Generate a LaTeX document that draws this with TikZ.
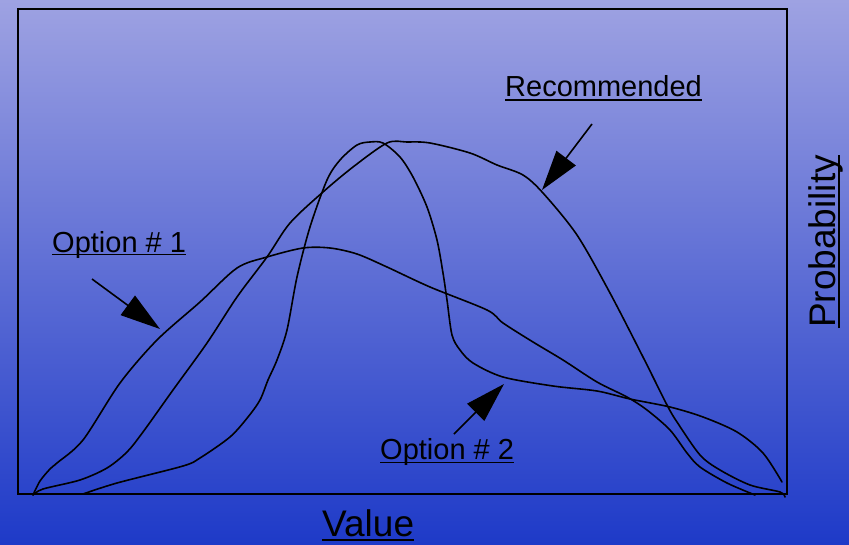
\documentclass[tikz,border=0pt]{standalone}
\usepackage{fontspec}
\setmainfont{Liberation Sans}
\usetikzlibrary{arrows.meta}
\definecolor{bgtop}{RGB}{158,162,226}
\definecolor{bgbot}{RGB}{30,58,200}
\tikzset{
  curve/.style={line width=1.6pt, line join=round, line cap=round},
  frame/.style={line width=2pt},
  pointer/.style={line width=1.6pt, -{Triangle[length=40pt,width=24pt]}},
  lbl/.style={inner sep=0pt, font=\fontsize{29}{34}\selectfont},
  biglbl/.style={inner sep=0pt, font=\fontsize{37}{44}\selectfont},
  uline/.style={line width=1.4pt}
}
\begin{document}
\begin{tikzpicture}[x=1pt,y=-1pt]
\fill[top color=bgtop, bottom color=bgbot] (0,0) rectangle (849,544);
\useasboundingbox (0,0) rectangle (849,544);
\draw[frame] (18,8.5) rectangle (786.5,493.5);

% Option # 1 curve
\draw[curve] plot[smooth, tension=0.5] coordinates {
 (33,495) (40,481) (50,469) (57,463) (83,440) (120,383) (157,340) (200,302)
 (237,268) (267,257) (303,248) (330,248) (357,254) (387,267) (430,287)
 (487,310) (503,323) (533,342) (563,360) (597,382) (627,397) (647,410)
 (670,430) (687,453) (700,467) (727,483) (755,495)};

% Recommended curve
\draw[curve] plot[smooth, tension=0.5] coordinates {
 (33,495) (43,489) (80,480) (107,468) (127,452) (143,432) (173,390) (207,343)
 (237,297) (267,257) (290,223) (323,192) (353,167) (387,143) (407,142)
 (430,143) (470,153) (497,165) (523,175) (543,193) (577,235) (610,293)
 (643,357) (667,405) (677,422) (700,455) (720,470) (750,485) (780,492) (785,497)};

% Option # 2 curve
\draw[curve] plot[smooth, tension=0.5] coordinates {
 (83,494) (117,483) (183,466) (200,458) (230,437) (248,417) (260,400)
 (268,380) (277,360) (287,330) (297,277) (310,227) (327,180) (340,160)
 (357,145) (370,142) (383,143) (400,157) (413,177) (427,207) (437,240)
 (443,273) (447,300) (452,335) (460,350) (473,363) (503,377) (553,386)
 (597,391) (630,399) (670,407) (703,417) (737,432) (763,453) (782,482)};

% labels
\node[lbl, anchor=base west] (o1) at (52,252) {Option \# 1};
\node[lbl, anchor=base west] (rec) at (505,96) {Recommended};
\node[lbl, anchor=base west] (o2) at (380,459) {Option \# 2};
\node[biglbl, anchor=base west] (val) at (322,536) {Value};
\node[biglbl, rotate=90, anchor=base west] (prob) at (835,328) {Probability};

\draw[uline] ([yshift=-2.5pt]o1.base west) -- ([yshift=-2.5pt]o1.base east);
\draw[uline] ([yshift=-4pt]rec.base west) -- ([yshift=-4pt]rec.base east);
\draw[uline] ([yshift=-3.5pt]o2.base west) -- ([yshift=-3.5pt]o2.base east);
\draw[uline] ([yshift=-4pt]val.base west) -- ([yshift=-4pt]val.base east);
\draw[uline] ([xshift=4pt]prob.base west) -- ([xshift=4pt]prob.base east);

% arrows
\coordinate (a1s) at (92,279);  \coordinate (a1t) at (160,329);
\coordinate (a2s) at (592,124); \coordinate (a2t) at (542,190);
\coordinate (a3s) at (454,434); \coordinate (a3t) at (504,384);
\draw[pointer] (a1s) -- (a1t);
\draw[pointer] (a2s) -- (a2t);
\draw[pointer] (a3s) -- (a3t);
\end{tikzpicture}
\end{document}
